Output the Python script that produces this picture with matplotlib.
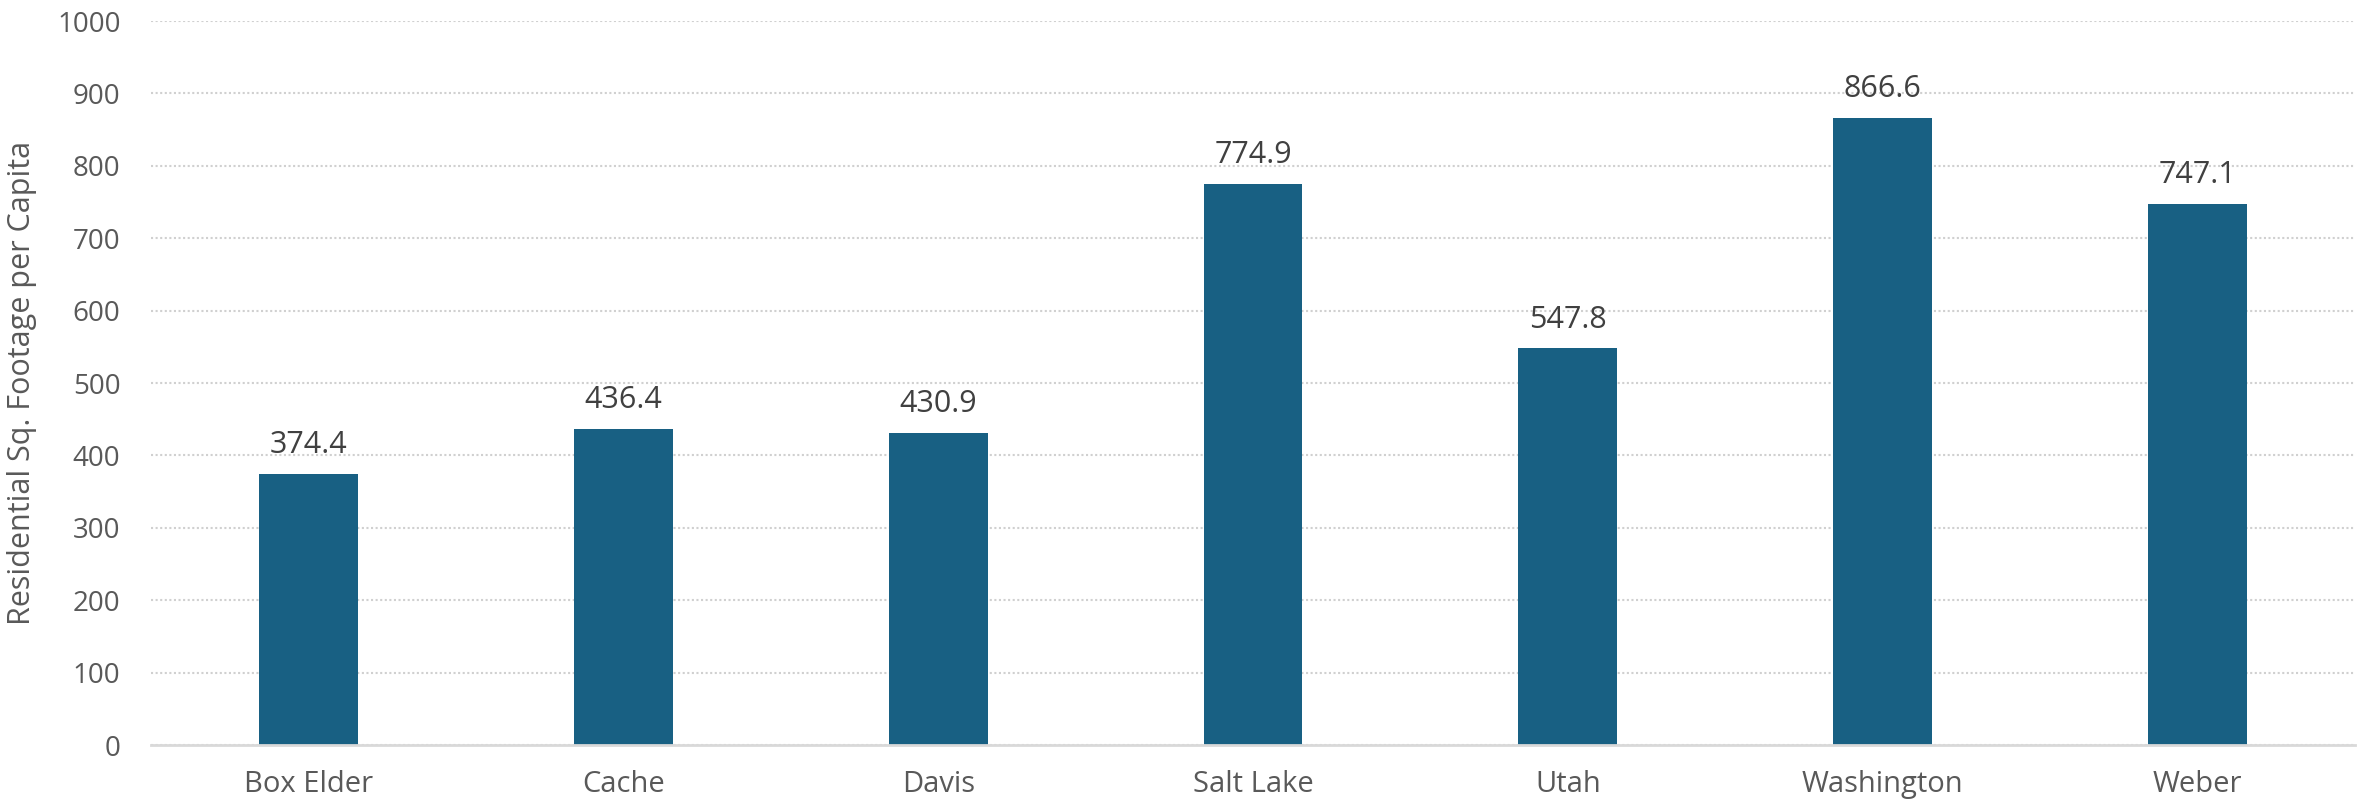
import numpy as np
import matplotlib.pyplot as plt

counties = ['Box Elder', 'Cache', 'Davis', 'Salt Lake', 'Utah', 'Washington', 'Weber']
sqft_per_capita = [374.4, 436.4, 430.9, 774.9, 547.8, 866.6, 747.1]

plt.rcParams['font.family'] = ['Open Sans', 'DejaVu Sans']

fig = plt.figure(figsize=(23.62, 8.02), dpi=100)
ax = fig.add_axes([151/2362, 1 - 745/802, (2355-151)/2362, (745-21)/802])

x = np.arange(len(counties))
bars = ax.bar(x, sqft_per_capita, width=0.314, color='#186083', zorder=3)

for xi, v in zip(x, sqft_per_capita):
    ax.annotate('{:.1f}'.format(v), (xi, v), xytext=(0, 15), textcoords='offset points',
                ha='center', va='baseline', fontsize=22, color='#404040')

ax.set_xlim(-0.5, len(counties) - 0.5)
ax.set_ylim(0, 1000)
ax.set_yticks(np.arange(0, 1001, 100))
ax.set_xticks(x)
ax.set_xticklabels(counties, fontsize=21)
ax.tick_params(axis='both', length=0, labelcolor='#595959')
ax.tick_params(axis='y', pad=22, labelsize=20)
ax.tick_params(axis='x', pad=18)

ax.grid(axis='y', color='#D0D0D0', lw=1.5, ls=(0, (1, 1.2)), zorder=0)
for s in ['top', 'right', 'left']:
    ax.spines[s].set_visible(False)
ax.spines['bottom'].set_color('#D9D9D9')
ax.spines['bottom'].set_linewidth(2)
ax.spines['bottom'].set_zorder(4)

ax.set_ylabel('Residential Sq. Footage per Capita', fontsize=22, color='#595959')
ax.yaxis.set_label_coords(-0.0517, 0.5)

fig.savefig('out.png', dpi=100)
